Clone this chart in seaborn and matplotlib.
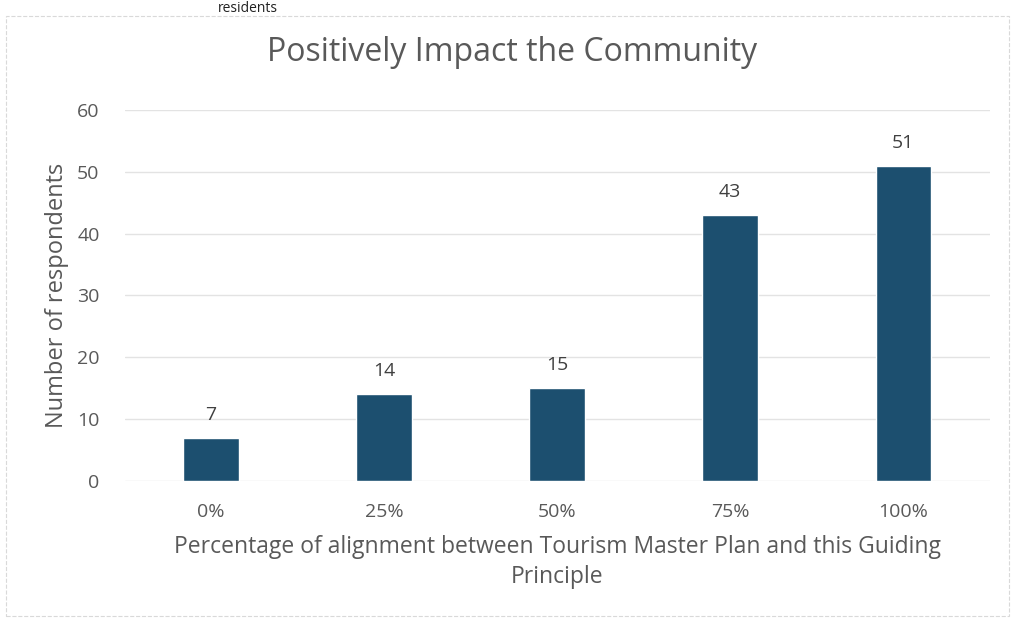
import matplotlib
matplotlib.use("Agg")
import matplotlib.pyplot as plt
import seaborn as sns
import pandas as pd

# data
categories = ["0%", "25%", "50%", "75%", "100%"]
respondents = [7, 14, 15, 43, 51]
y_ticks = [0, 10, 20, 30, 40, 50, 60]

df = pd.DataFrame({"alignment": categories, "count": respondents})

sns.set_style("white")
plt.rcParams["font.family"] = ["Open Sans", "DejaVu Sans"]

grey = "#595959"
bar_color = "#1c4f6f"

fig = plt.figure(figsize=(10.13, 6.22), dpi=100)
ax = fig.add_axes([0.123, 0.227, 0.854, 0.596])

sns.barplot(data=df, x="alignment", y="count", color=bar_color,
            width=0.32, saturation=1, ax=ax, zorder=3)

ax.set_ylim(0, 60)
ax.set_yticks(y_ticks)
ax.grid(axis="y", color="#e3e3e3", linewidth=1, zorder=0)
for s in ax.spines.values():
    s.set_visible(False)
ax.tick_params(axis="both", length=0, labelsize=14, colors=grey, pad=18)
ax.tick_params(axis="x", pad=16)

for c in ax.containers:
    ax.bar_label(c, padding=10, fontsize=14, color="#404040")

# title is centred on the page, not the plot area
fig.text(0.505, 0.915, "Positively Impact the Community", fontsize=23,
         color=grey, ha="center", va="center")
ax.set_ylabel("Number of respondents", fontsize=17, color=grey, labelpad=6)
ax.set_xlabel("Percentage of alignment between Tourism Master Plan and this Guiding\nPrinciple",
              fontsize=16.5, color=grey, labelpad=10, linespacing=1.35)

# heading of the scanned page (mostly cut off) and the faint chart frame
fig.text(0.215, 0.999, "residents", fontsize=10, color="#222222", ha="left", va="top")
fig.add_artist(plt.Rectangle((0.006, 0.01), 0.99, 0.965, transform=fig.transFigure,
                             fill=False, edgecolor="#d9d9d9", linewidth=0.8, linestyle="--"))

fig.savefig("out.png", dpi=100)
